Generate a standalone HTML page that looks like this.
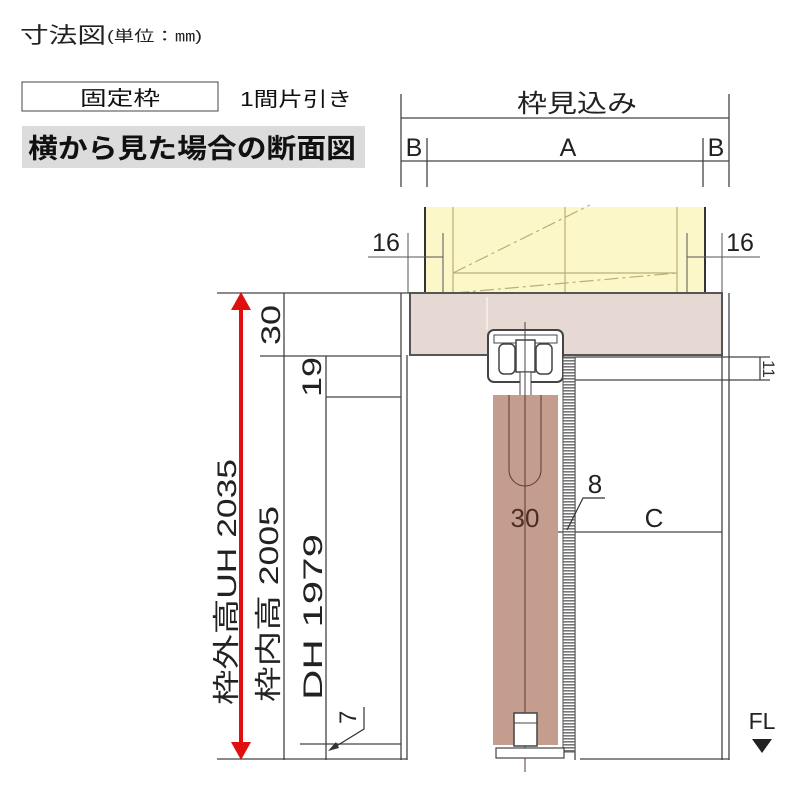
<!DOCTYPE html>
<html><head><meta charset="utf-8"><style>
body{margin:0;background:#fff;}
svg{display:block;font-family:"Liberation Sans","Noto Sans CJK JP",sans-serif;}
</style></head><body>
<svg width="800" height="800" viewBox="0 0 800 800" xmlns="http://www.w3.org/2000/svg">
<text x="20" y="43" font-size="22" fill="#222" textLength="86" lengthAdjust="spacingAndGlyphs">寸法図</text>
<text x="107" y="41" font-size="15" fill="#222" textLength="95" lengthAdjust="spacingAndGlyphs">(単位：㎜)</text>
<rect x="22" y="82" width="196" height="29" fill="#fff" stroke="#444" stroke-width="1"/>
<text x="80" y="105" font-size="20" fill="#111" textLength="80" lengthAdjust="spacingAndGlyphs">固定枠</text>
<text x="240" y="106" font-size="20" fill="#111" textLength="112" lengthAdjust="spacingAndGlyphs">1間片引き</text>
<rect x="22" y="126" width="343" height="42" fill="#dcdcdc"/>
<text x="28" y="158" font-size="27" font-weight="bold" fill="#111" textLength="328" lengthAdjust="spacingAndGlyphs">横から見た場合の断面図</text>

<g stroke="#444" stroke-width="1.3" fill="none">
<line x1="401" y1="94" x2="401" y2="187"/><line x1="729" y1="94" x2="729" y2="187"/>
<line x1="427" y1="138" x2="427" y2="187"/><line x1="703" y1="138" x2="703" y2="187"/>
<line x1="401" y1="118" x2="729" y2="118"/><line x1="401" y1="161" x2="729" y2="161"/>
</g>
<text x="517" y="112" font-size="25" fill="#222" textLength="120" lengthAdjust="spacingAndGlyphs">枠見込み</text>
<g font-size="25" fill="#222" text-anchor="middle">
<text x="414" y="156">B</text><text x="568" y="156">A</text><text x="716" y="156">B</text>
<text x="386" y="251">16</text><text x="740" y="251">16</text>
</g>

<rect x="425" y="207" width="280" height="86" fill="#fbf7c8"/>
<g stroke="#b8b07a" stroke-width="1.2" fill="none">
<line x1="453" y1="207" x2="453" y2="293"/><line x1="677" y1="207" x2="677" y2="293"/>
<line x1="565" y1="207" x2="565" y2="345"/>
<line x1="453" y1="273" x2="677" y2="273"/>
<line x1="453" y1="273" x2="590" y2="205" stroke-dasharray="14,4,3,4"/>
<line x1="455" y1="293" x2="677" y2="273" stroke-dasharray="14,4,3,4"/>
</g>
<g stroke="#333" stroke-width="2"><line x1="425" y1="207" x2="425" y2="293"/><line x1="705" y1="207" x2="705" y2="293"/></g>
<g stroke="#555" stroke-width="1">
<line x1="368" y1="257" x2="443" y2="257"/><line x1="408" y1="233" x2="408" y2="293"/><line x1="443" y1="233" x2="443" y2="293"/>
<line x1="687" y1="257" x2="760" y2="257"/><line x1="687" y1="233" x2="687" y2="293"/><line x1="722" y1="233" x2="722" y2="293"/>
</g>

<rect x="410" y="293" width="312" height="62" fill="#e6d8d2" stroke="#555" stroke-width="2"/>
<line x1="487" y1="297" x2="487" y2="330" stroke="#fff" stroke-width="1"/>
<rect x="488" y="330" width="75" height="52" rx="6" fill="#fff" stroke="#444" stroke-width="2"/>
<rect x="494" y="335" width="63" height="8" fill="#fff" stroke="#444" stroke-width="1"/>
<rect x="499" y="344" width="16" height="30" rx="5" fill="#fff" stroke="#444" stroke-width="1.5"/>
<rect x="536" y="344" width="16" height="30" rx="5" fill="#fff" stroke="#444" stroke-width="1.5"/>
<rect x="516" y="340" width="19" height="32" fill="#fff" stroke="#444" stroke-width="1.5"/>
<rect x="520" y="372" width="11" height="24" fill="#fff" stroke="#444" stroke-width="1"/>
<line x1="525" y1="322" x2="525" y2="396" stroke="#444" stroke-width="1"/>

<g stroke="#444" stroke-width="1.3" fill="none">
<line x1="401" y1="293" x2="401" y2="760"/><line x1="407" y1="355" x2="407" y2="760"/>
<line x1="722" y1="355" x2="722" y2="760"/><line x1="729" y1="293" x2="729" y2="760"/>
<line x1="575" y1="357" x2="575" y2="760"/>
<line x1="575" y1="357" x2="770" y2="357"/><line x1="575" y1="380" x2="770" y2="380"/>
<line x1="760" y1="357" x2="760" y2="380"/>
<line x1="493" y1="532" x2="722" y2="532"/>
<line x1="217" y1="293" x2="410" y2="293"/>
<line x1="260" y1="356" x2="401" y2="356"/>
<line x1="284" y1="293" x2="284" y2="760"/>
<line x1="326" y1="356" x2="326" y2="760"/>
<line x1="326" y1="397" x2="401" y2="397"/>
<line x1="300" y1="744" x2="401" y2="744"/>
<line x1="217" y1="759" x2="407" y2="759"/>
<line x1="580" y1="759" x2="729" y2="759"/>
</g>
<text x="763" y="369" font-size="17" fill="#333" transform="rotate(90 763 369)" text-anchor="middle">11</text>

<defs><pattern id="h" width="4" height="3" patternUnits="userSpaceOnUse"><rect width="4" height="3" fill="#fff"/><rect width="4" height="1.6" fill="#777"/></pattern></defs>
<rect x="563" y="357" width="12" height="395" fill="url(#h)" stroke="#555" stroke-width="1"/>

<rect x="493" y="395" width="65" height="350" fill="#c59d8f"/>
<line x1="525" y1="395" x2="525" y2="772" stroke="#5a3a30" stroke-width="1"/>
<path d="M509 395 V470 A16 16 0 0 0 541 470 V395" fill="none" stroke="#5a3a30" stroke-width="1"/>
<text x="525" y="527" font-size="26" text-anchor="middle" fill="#4a2e26">30</text>
<rect x="514" y="713" width="23" height="33" fill="#fff" stroke="#444" stroke-width="1.5"/>
<line x1="514" y1="723" x2="537" y2="723" stroke="#444"/>
<rect x="496" y="748" width="68" height="10" fill="#fff" stroke="#444" stroke-width="1.2"/>

<text x="595" y="493" font-size="26" fill="#222" text-anchor="middle">8</text>
<polyline points="605,498 583,498 567,530" fill="none" stroke="#333" stroke-width="1.2"/>
<text x="654" y="527" font-size="26" fill="#222" text-anchor="middle">C</text>

<line x1="241" y1="305" x2="241" y2="747" stroke="#e01010" stroke-width="4"/>
<polygon points="241,292 231,310 251,310" fill="#e01010"/>
<polygon points="241,760 231,742 251,742" fill="#e01010"/>
<g font-size="27" fill="#222">
<text transform="translate(280 345) rotate(-90)" textLength="40" lengthAdjust="spacingAndGlyphs">30</text>
<text transform="translate(321 397) rotate(-90)" textLength="40" lengthAdjust="spacingAndGlyphs">19</text>
<text transform="translate(236 705) rotate(-90)" textLength="246" lengthAdjust="spacingAndGlyphs">枠外高UH 2035</text>
<text transform="translate(278 702) rotate(-90)" textLength="196" lengthAdjust="spacingAndGlyphs">枠内高 2005</text>
<text transform="translate(322 700) rotate(-90)" textLength="166" lengthAdjust="spacingAndGlyphs">DH 1979</text>
<text transform="translate(356 724) rotate(-90)" font-size="24">7</text>
</g>
<polyline points="364,707 364,729 330,750" fill="none" stroke="#333" stroke-width="1.2"/>
<polygon points="328,751 336,742 339,748" fill="#333"/>

<text x="762" y="729" font-size="23" fill="#222" text-anchor="middle">FL</text>
<polygon points="752,739 772,739 762,753" fill="#222"/>
</svg>
</body></html>
